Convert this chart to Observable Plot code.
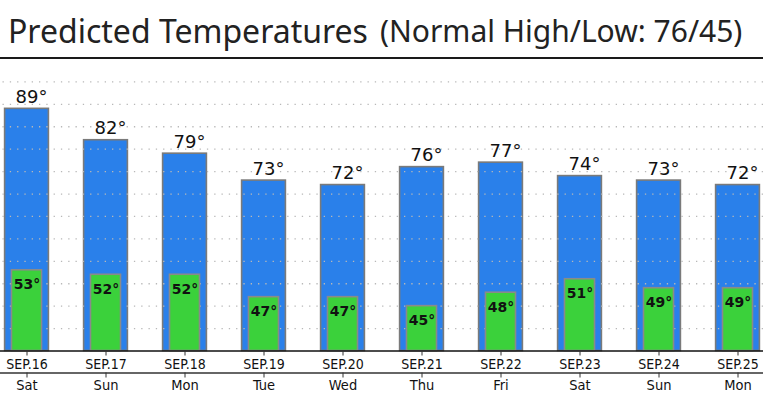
<!DOCTYPE html>
<html>
<head>
<meta charset="utf-8">
<script src="https://cdn.jsdelivr.net/npm/d3@7"></script>
<script src="https://cdn.jsdelivr.net/npm/@observablehq/plot@0.6"></script>
<style>
  html, body { margin: 0; padding: 0; background: #fff; overflow: hidden; }
  #hdr { position: relative; height: 57px; border-bottom: 2px solid #1a1a1a; width: 763px; white-space: nowrap; font-family: "Noto Sans", "Open Sans", sans-serif; color: #222; }
  #hdr .t1 { position: absolute; left: 8px; top: 5.6px; font-size: 32px; line-height: 50px; }
  #hdr .t2 { position: absolute; left: 380px; top: 6.4px; font-size: 30px; line-height: 50px; }
  #chart svg { display: block; }
</style>
</head>
<body>
<div id="hdr"><span class="t1">Predicted Temperatures</span> <span class="t2">(Normal High/Low: 76/45)</span></div>
<div id="chart"></div>
<script>
const dates = ["SEP.16","SEP.17","SEP.18","SEP.19","SEP.20","SEP.21","SEP.22","SEP.23","SEP.24","SEP.25"];
const days  = ["Sat","Sun","Mon","Tue","Wed","Thu","Fri","Sat","Sun","Mon"];
const highs = [89,82,79,73,72,76,77,74,73,72];
const lows  = [53,52,52,47,47,45,48,51,49,49];
const gridTicks = [40,45,50,55,60,65,70,75,80,85,90,95];

const data = dates.map((d, i) => ({date: d, day: days[i], high: highs[i], low: lows[i]}));
const dayOf = new Map(dates.map((d, i) => [d, days[i]]));

const axisFont = "'DejaVu Sans Condensed', 'DejaVu Sans', sans-serif";
const valFont = "'DejaVu Sans', Verdana, sans-serif";

const chart = Plot.plot({
  width: 763,
  height: 335,
  marginLeft: 0,
  marginRight: 0,
  marginTop: 0,
  marginBottom: 43.5,
  style: {background: "#fff", overflow: "visible"},
  x: {domain: dates, range: [-14, 777.5], padding: 0, axis: null},
  y: {domain: [35, 100], axis: null},
  marks: [
    Plot.barY(data, {x: "date", y1: 35, y2: "high", fill: "#2a80ea", stroke: "#7a7a7a", strokeWidth: 1.6, insetLeft: 17.6, insetRight: 17.6}),
    Plot.gridY(gridTicks, {stroke: "#b8b8b8", strokeOpacity: 1, strokeWidth: 1.3, strokeDasharray: "1.3,6", strokeDashoffset: -2.5}),
    Plot.barY(data, {x: "date", y1: 35, y2: "low", fill: "#3bd13b", stroke: "#8a8a8a", strokeWidth: 1.6, insetLeft: 24.5, insetRight: 24.5}),
    Plot.text(data, {x: "date", y: "high", text: d => d.high + "°", dy: -6, dx: 4.5, lineAnchor: "bottom", fontSize: 18, fontFamily: valFont, fill: "#111"}),
    Plot.text(data, {x: "date", y: "low", text: d => d.low + "°", dy: 19, lineAnchor: "bottom", fontSize: 14, fontWeight: "bold", fontFamily: valFont, fill: "#111"}),
    Plot.ruleY([35], {stroke: "#111", strokeWidth: 1.6}),
    Plot.ruleY([35], {stroke: "#333", strokeWidth: 1.6, dy: 22}),
    Plot.axisX({label: null, tickSize: 5, tickPadding: 3, fontSize: 14, fontFamily: axisFont, stroke: "#333", color: "#111"}),
    Plot.axisX({label: null, tickSize: 5, tickPadding: 2, dy: 22, fontSize: 14.5, fontFamily: axisFont, tickFormat: d => dayOf.get(d), stroke: "#333", color: "#111"})
  ]
});
document.getElementById("chart").appendChild(chart);
</script>
</body>
</html>
